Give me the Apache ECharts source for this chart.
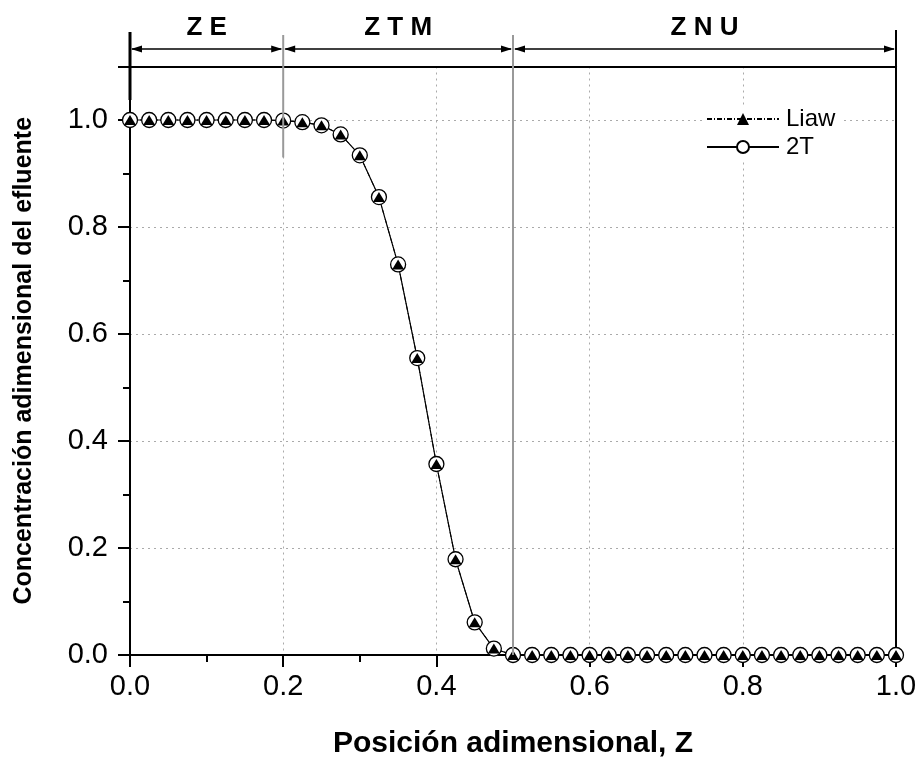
<!DOCTYPE html>
<html><head><meta charset="utf-8">
<script src="https://cdn.jsdelivr.net/npm/echarts@6/dist/echarts.min.js"></script>
<style>html,body{margin:0;padding:0;background:#fff;}#c{width:918px;height:759px;}</style>
</head><body><div id="c"></div>
<script>
var positions = [0, 0.025, 0.05, 0.075, 0.1, 0.125, 0.15, 0.175, 0.2, 0.225, 0.25, 0.275, 0.3, 0.325, 0.35, 0.375, 0.4, 0.425, 0.45, 0.475, 0.5, 0.525, 0.55, 0.575, 0.6, 0.625, 0.65, 0.675, 0.7, 0.725, 0.75, 0.775, 0.8, 0.825, 0.85, 0.875, 0.9, 0.925, 0.95, 0.975, 1.0];
var liaw = [1, 1, 1, 1, 1, 1, 1, 1, 0.999, 0.996, 0.99, 0.973, 0.934, 0.856, 0.73, 0.555, 0.357, 0.179, 0.061, 0.012, 0, 0, 0, 0, 0, 0, 0, 0, 0, 0, 0, 0, 0, 0, 0, 0, 0, 0, 0, 0, 0];
var twoT = [1, 1, 1, 1, 1, 1, 1, 1, 0.999, 0.996, 0.99, 0.973, 0.934, 0.856, 0.73, 0.555, 0.357, 0.179, 0.061, 0.012, 0, 0, 0, 0, 0, 0, 0, 0, 0, 0, 0, 0, 0, 0, 0, 0, 0, 0, 0, 0, 0];
var zoneNames = ['Z E', 'Z T M', 'Z N U'];
var zoneBounds = [0, 0.2, 0.5, 1.0];

function pairs(xs, ys) { return xs.map(function (x, i) { return [x, ys[i]]; }); }

var FONT = 'Liberation Sans, Arial, sans-serif';
var chart = echarts.init(document.getElementById('c'));
var option = {
  backgroundColor: '#fff',
  animation: false,
  grid: { left: 130, right: 22, top: 66.5, bottom: 104, containLabel: false, outerBoundsMode: 'none' },
  legend: {
    data: ['Liaw', '2T'],
    orient: 'vertical',
    left: 704, top: 105,
    itemWidth: 72, itemHeight: 15, itemGap: 4,
    backgroundColor: '#fff', padding: [2, 8, 2, 2],
    textStyle: { fontFamily: FONT, fontSize: 24, color: '#000', padding: [0, 0, 0, 2] }
  },
  xAxis: [{
    type: 'value', min: 0, max: 1, interval: 0.2,
    axisLine: { show: true, onZero: false, lineStyle: { color: '#000', width: 2 } },
    axisTick: { show: true, inside: false, length: 12, lineStyle: { color: '#000', width: 2 } },
    minorTick: { show: true, splitNumber: 2, length: 7, lineStyle: { color: '#000', width: 2 } },
    axisLabel: { fontFamily: FONT, fontSize: 29, color: '#000', margin: 17, formatter: function (v) { return v.toFixed(1); } },
    splitLine: { show: true, lineStyle: { color: '#aaa', type: [2, 4], width: 1 } },
    name: 'Posición adimensional, Z', nameLocation: 'middle', nameGap: 74,
    nameTextStyle: { fontFamily: FONT, fontSize: 30, fontWeight: 'bold', color: '#000' }
  }, {
    type: 'value', min: 0, max: 1, position: 'top',
    axisLine: { show: true, onZero: false, lineStyle: { color: '#000', width: 2 } },
    axisTick: { show: false }, axisLabel: { show: false }, splitLine: { show: false }
  }],
  yAxis: [{
    type: 'value', min: 0, max: 1.1, interval: 0.2,
    axisLine: { show: true, onZero: false, lineStyle: { color: '#000', width: 2 } },
    axisTick: { show: true, inside: false, length: 12, lineStyle: { color: '#000', width: 2 } },
    minorTick: { show: true, splitNumber: 2, length: 7, lineStyle: { color: '#000', width: 2 } },
    axisLabel: { fontFamily: FONT, fontSize: 29, color: '#000', margin: 22,
      formatter: function (v) { return v > 1.05 ? '' : v.toFixed(1); } },
    splitLine: { show: true, lineStyle: { color: '#aaa', type: [2, 4], width: 1 } },
    name: 'Concentración adimensional del efluente', nameLocation: 'middle', nameGap: 93,
    nameTextStyle: { fontFamily: FONT, fontSize: 25, fontWeight: 'bold', color: '#000' }
  }, {
    type: 'value', min: 0, max: 1.1, position: 'right',
    axisLine: { show: true, onZero: false, lineStyle: { color: '#000', width: 2 } },
    axisTick: { show: false }, axisLabel: { show: false }, splitLine: { show: false }
  }],
  series: [{
    name: 'Liaw', type: 'line', z: 1,
    data: pairs(positions, liaw),
    symbol: 'triangle', symbolSize: [15, 13], showSymbol: false,
    itemStyle: { color: '#000' },
    lineStyle: { color: '#000', width: 1, type: [5, 2, 1, 2] }
  }, {
    name: '2T', type: 'line', z: 2,
    data: pairs(positions, twoT),
    symbol: 'circle', symbolSize: 15, showSymbol: true,
    itemStyle: { color: '#fff', borderColor: '#000', borderWidth: 1.3 },
    lineStyle: { color: '#000', width: 1.2, type: 'solid' }
  }, {
    name: 'Liaw', type: 'line', z: 3,
    data: pairs(positions, liaw),
    symbol: 'triangle', symbolSize: [12, 10], showSymbol: true,
    itemStyle: { color: '#000' },
    lineStyle: { width: 0, opacity: 0 }
  }]
};
chart.setOption(option);

function px(x, y) { return chart.convertToPixel({ xAxisIndex: 0, yAxisIndex: 0 }, [x, y]); }
var g = [];
var arrowY = 49;
for (var i = 0; i < zoneNames.length; i++) {
  var a = px(zoneBounds[i], 0)[0], b = px(zoneBounds[i + 1], 0)[0];
  g.push({ type: 'line', shape: { x1: a + 2, y1: arrowY, x2: b - 2, y2: arrowY }, style: { stroke: '#000', lineWidth: 1.5 }, z: 100 });
  g.push({ type: 'polygon', shape: { points: [[a + 1, arrowY], [a + 12, arrowY - 3.5], [a + 12, arrowY + 3.5]] }, style: { fill: '#000' }, z: 100 });
  g.push({ type: 'polygon', shape: { points: [[b - 1, arrowY], [b - 12, arrowY - 3.5], [b - 12, arrowY + 3.5]] }, style: { fill: '#000' }, z: 100 });
  g.push({ type: 'text', x: (a + b) / 2, y: 28, style: { text: zoneNames[i], font: 'bold 26px ' + FONT, fill: '#000', align: 'center', verticalAlign: 'middle' }, z: 100 });
}
var x0 = px(0, 0)[0], x2 = px(0.2, 0)[0], x5 = px(0.5, 0)[0], x1 = px(1, 0)[0];
var yb = px(0, 0)[1], yTop = px(0, 1.1)[1];
g.push({ type: 'line', shape: { x1: x0, y1: 32, x2: x0, y2: 100 }, style: { stroke: '#000', lineWidth: 3 }, z: 100 });
g.push({ type: 'line', shape: { x1: x1, y1: 30, x2: x1, y2: yTop }, style: { stroke: '#000', lineWidth: 2 }, z: 100 });
g.push({ type: 'line', shape: { x1: x2, y1: 35, x2: x2, y2: px(0, 0.93)[1] }, style: { stroke: '#999', lineWidth: 2 }, z: 100 });
g.push({ type: 'line', shape: { x1: x5, y1: 35, x2: x5, y2: yb }, style: { stroke: '#999', lineWidth: 2 }, z: 100 });
chart.setOption({ graphic: g });
</script>
</body></html>
